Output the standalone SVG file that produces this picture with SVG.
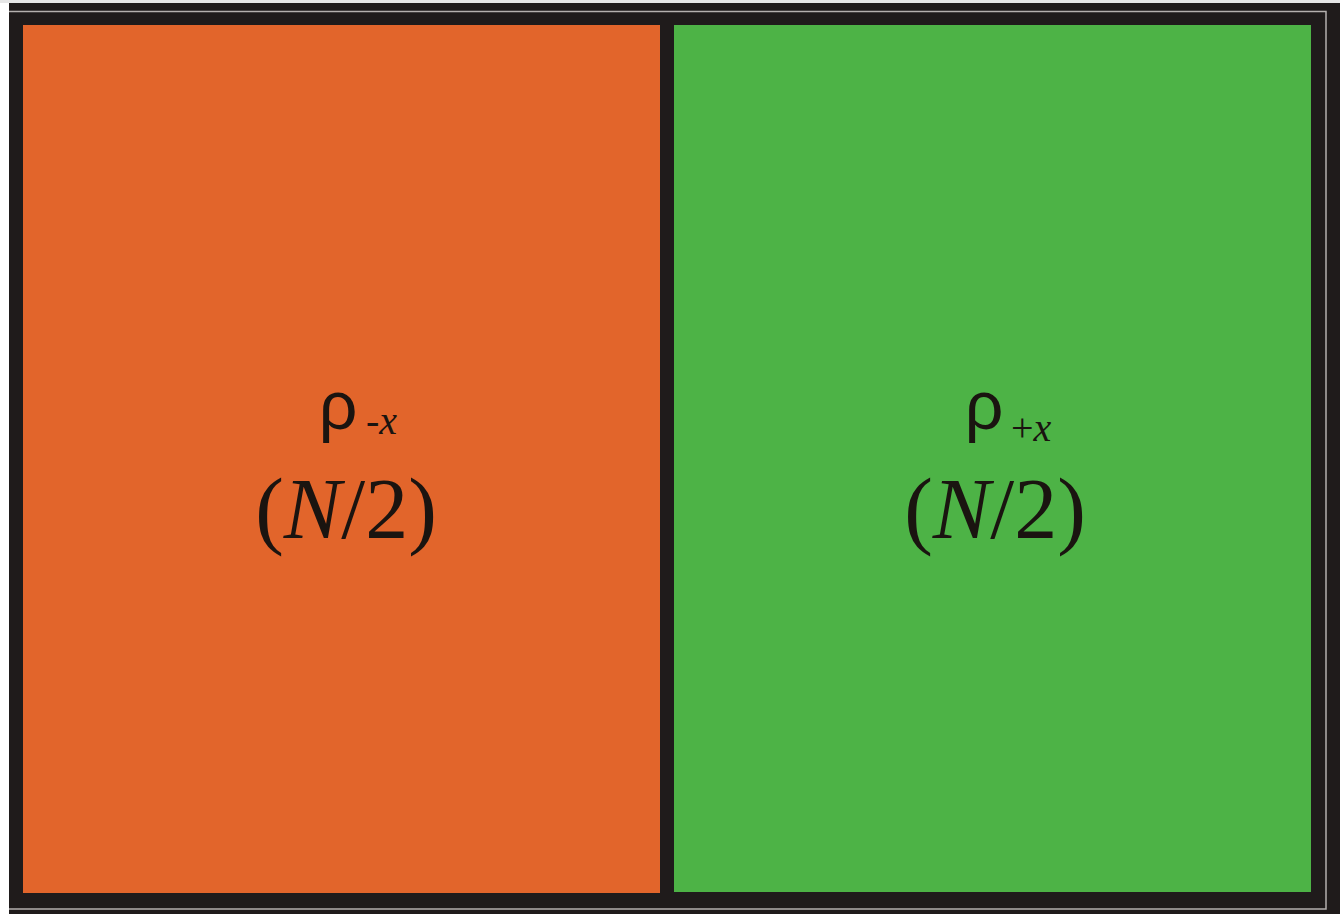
<svg xmlns="http://www.w3.org/2000/svg" width="1340" height="914" viewBox="0 0 1340 914">
<style>
.frame{fill:#1f1b1b}
.rule{fill:none;stroke:#b4b0ae;stroke-width:1.5}
.rho{font-family:"Liberation Sans",sans-serif;font-size:68px;fill:#1a1410}
.sub{font-family:"Liberation Serif",serif;font-style:italic;font-size:40px;fill:#1a1410}
.sub .up{font-style:normal}
.big{font-family:"Liberation Serif",serif;font-size:86px;fill:#1a1410}
.big .it{font-style:italic}
</style>
<rect x="0" y="0" width="1340" height="914" fill="#ffffff"/>
<rect x="0" y="0" width="1340" height="3" fill="#e6e6e6"/>
<rect class="frame" x="9" y="3" width="1331" height="911"/>
<path class="rule" d="M9,11.5 H1326 V909 H9"/>
<g id="left">
<rect x="23" y="25" width="637" height="868" fill="#e2652b"/>
<text class="rho" x="338" y="429" text-anchor="middle">ρ</text>
<text class="sub" x="366" y="434"><tspan class="up">-</tspan>x</text>
<text class="big" x="346" y="538" text-anchor="middle">(<tspan class="it">N</tspan>/2)</text>
</g>
<g id="right">
<rect x="674" y="25" width="637" height="867" fill="#4db346"/>
<text class="rho" x="984" y="429" text-anchor="middle">ρ</text>
<text class="sub" x="1011" y="441"><tspan class="up">+</tspan>x</text>
<text class="big" x="995" y="538" text-anchor="middle">(<tspan class="it">N</tspan>/2)</text>
</g>
</svg>
